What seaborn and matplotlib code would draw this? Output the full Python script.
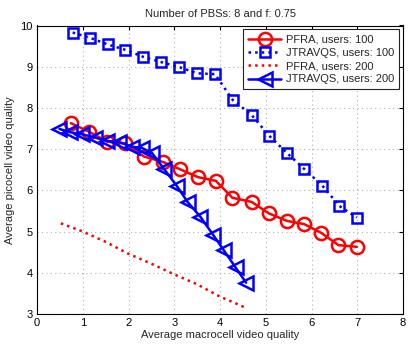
import matplotlib
matplotlib.use("Agg")
import matplotlib.pyplot as plt
import seaborn as sns
import pandas as pd

# ---- data ----
pfra100_x = [0.74, 1.14, 1.54, 1.92, 2.34, 2.75, 3.13, 3.52, 3.91, 4.27, 4.69, 5.07, 5.46, 5.84, 6.21, 6.59, 6.99]
pfra100_y = [7.63, 7.42, 7.18, 7.14, 6.82, 6.69, 6.51, 6.32, 6.23, 5.82, 5.72, 5.44, 5.26, 5.18, 4.97, 4.67, 4.63]

jtr100_x = [0.78, 1.16, 1.55, 1.93, 2.32, 2.72, 3.11, 3.50, 3.89, 4.28, 4.69, 5.07, 5.46, 5.84, 6.24, 6.61, 6.99]
jtr100_y = [9.83, 9.70, 9.54, 9.41, 9.24, 9.11, 8.99, 8.84, 8.82, 8.19, 7.83, 7.33, 6.91, 6.52, 6.11, 5.62, 5.34]

pfra200_x = [0.52, 0.98, 1.50, 1.98, 2.50, 2.98, 3.50, 4.00, 4.30, 4.58]
pfra200_y = [5.20, 5.01, 4.75, 4.47, 4.22, 3.97, 3.72, 3.42, 3.28, 3.14]

jtr200_x = [0.49, 0.73, 0.99, 1.27, 1.53, 1.80, 2.07, 2.29, 2.51, 2.77, 3.06, 3.29, 3.57, 3.85, 4.08, 4.34, 4.57]
jtr200_y = [7.49, 7.41, 7.36, 7.28, 7.20, 7.17, 7.06, 7.03, 6.91, 6.53, 6.10, 5.72, 5.36, 4.92, 4.55, 4.13, 3.76]

labels = ["PFRA, users: 100", "JTRAVQS, users: 100", "PFRA, users: 200", "JTRAVQS, users: 200"]
x_ticks = [0, 1, 2, 3, 4, 5, 6, 7, 8]
y_ticks = [3, 4, 5, 6, 7, 8, 9, 10]
title = "Number of PBSs: 8 and f: 0.75"
xlabel = "Average macrocell video quality"
ylabel = "Average picocell video quality"

sns.set_theme(style="white")
plt.rcParams['font.family'] = ['Liberation Sans', 'DejaVu Sans']

fig = plt.figure(figsize=(4.11, 3.47), dpi=100)
ax = fig.add_axes([37/411, 1 - 314/347, (403-37)/411, (314-25.5)/347])

series = [
    (pfra100_x, pfra100_y, labels[0], dict(color="#ff0000", linestyle="-", marker="o", markersize=9.5)),
    (jtr100_x, jtr100_y, labels[1], dict(color="#0000ff", linestyle=":", marker="s", markersize=7.5)),
    (pfra200_x, pfra200_y, labels[2], dict(color="#ff0000", linestyle=":", marker=None)),
    (jtr200_x, jtr200_y, labels[3], dict(color="#0000ff", linestyle="-", marker="<", markersize=10)),
]
for xs, ys, lab, st in series:
    df = pd.DataFrame({"x": xs, "y": ys})
    sns.lineplot(data=df, x="x", y="y", ax=ax, sort=False, label=lab,
                 linewidth=1.8, markerfacecolor="none", markeredgewidth=1.8,
                 markeredgecolor=st["color"], **st)

ax.set_xlim(0, 8)
ax.set_ylim(3, 10)
ax.set_xticks(x_ticks)
ax.set_yticks(y_ticks)
ax.tick_params(direction="in", top=True, right=True, length=3, width=0.8,
               labelsize=8, colors="black", pad=3)
ax.grid(True, linestyle=(0, (1, 3)), color="#b0b0b0", linewidth=0.8)
for s in ax.spines.values():
    s.set_color("black")
    s.set_linewidth(0.8)
ax.set_title(title, fontsize=8, pad=6)
ax.set_xlabel(xlabel, fontsize=8, labelpad=1)
ax.set_ylabel(ylabel, fontsize=8, labelpad=4)

leg = ax.legend(loc="upper right", fontsize=8, frameon=True, fancybox=False,
                handlelength=3.0, borderpad=0.45, labelspacing=0.3,
                handletextpad=0.4, borderaxespad=0.35, framealpha=1)
leg.get_frame().set_edgecolor("#222222")
leg.get_frame().set_linewidth(0.8)

fig.savefig("out.png", dpi=100)
